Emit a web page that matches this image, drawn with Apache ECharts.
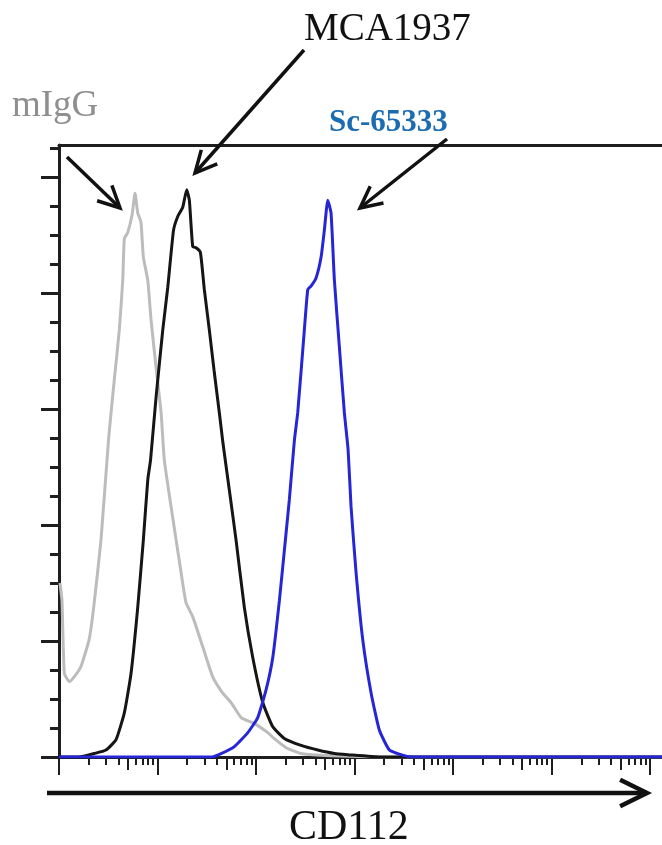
<!DOCTYPE html>
<html><head><meta charset="utf-8">
<script src="https://cdn.jsdelivr.net/npm/echarts@6/dist/echarts.min.js"></script>
<style>html,body{margin:0;padding:0;background:#fff}#c{width:662px;height:845px}</style>
</head><body><div id="c"></div>
<script>
// x values are fluorescence intensity in decades (log10), y values are cell counts
const grayDecade = [0.01,0.03,0.054,0.105,0.162,0.223,0.305,0.352,0.426,0.505,0.561,0.612,0.647,0.663,0.697,0.741,0.772,0.799,0.832,0.856,0.901,0.934,0.985,1.036,1.069,1.137,1.239,1.289,1.357,1.459,1.560,1.662,1.746,1.848,1.980,2.119,2.183,2.305,2.457,2.761,3.3,6.12];
const grayCount  = [150,135,72,65,70,78,101,129,187,276,325,368,411,447,452,467,486,469,461,431,411,377,336,297,256,216,159,133,121,95,69,55,47,34,29,21,16,8,3,1,0,0];

const blackDecade = [0,0.2,0.358,0.477,0.579,0.663,0.731,0.799,0.856,0.901,0.929,0.985,1.053,1.104,1.162,1.205,1.256,1.296,1.323,1.357,1.391,1.435,1.475,1.526,1.577,1.627,1.665,1.729,1.797,1.881,1.966,2.068,2.170,2.287,2.457,2.626,2.795,2.931,3.269,6.12];
const blackCount  = [0,0,3,6,15,38,72,129,187,239,256,310,368,405,454,466,474,489,480,440,439,435,403,368,331,297,270,230,187,129,86,47,26,16,10,6,3,2,0,0];

const blueDecade = [0,1.543,1.645,1.780,1.916,2.017,2.102,2.170,2.237,2.287,2.338,2.389,2.423,2.490,2.525,2.558,2.609,2.660,2.693,2.728,2.761,2.795,2.846,2.896,2.934,2.964,3.015,3.083,3.168,3.252,3.353,3.472,3.574,6.12];
const blueCount  = [0,0,3,9,21,34,58,86,135,178,222,273,297,368,403,406,413,431,454,480,469,411,353,297,265,216,159,101,55,23,6,2,0,0];

const seriesNames = ['mIgG','MCA1937','Sc-65333'];
const axisTitle = 'CD112';
const xMax = 6.12;          // decades shown
const yMax = 527.6;         // counts at top of frame
const yMajorTicks = [0,100,200,300,400,500];
const decades = [0,1,2,3,4,5,6];

// tick positions derived from the scale definitions
const yMinorTicks = [];
for (let v = 25; v <= yMax; v += 25) if (v % 100 !== 0) yMinorTicks.push(v);
const xFiveTicks = [], xMinorTicks = [];
decades.forEach(d => {
  [2,3,4,6,7,8,9].forEach(k => { const v = d + Math.log10(k); if (v <= xMax) xMinorTicks.push(v); });
  const f = d + Math.log10(5); if (f <= xMax) xFiveTicks.push(f);
});

const zip = (xs, ys) => xs.map((x, i) => [x, ys[i]]);
const AX = '#1e1e1e';

function xAxisDef(pos, ticks, len, showLine) {
  return {
    type: 'value', position: pos, min: 0, max: xMax,
    axisLine: { show: showLine, lineStyle: { color: AX, width: 3 } },
    axisTick: { show: ticks.length > 0, customValues: ticks, length: len, lineStyle: { color: AX, width: 2 } },
    axisLabel: { show: false }, splitLine: { show: false }
  };
}
function yAxisDef(ticks, len, showLine) {
  return {
    type: 'value', position: 'left', min: 0, max: yMax,
    axisLine: { show: showLine, lineStyle: { color: AX, width: 3 } },
    axisTick: { show: true, customValues: ticks, length: len, lineStyle: { color: AX, width: 3 } },
    axisLabel: { show: false }, splitLine: { show: false }
  };
}

function arrow(x1, y1, x2, y2, w, head) {
  const a = Math.atan2(y1 - y2, x1 - x2), h = 0.46;
  const p1 = [x2 + head * Math.cos(a + h), y2 + head * Math.sin(a + h)];
  const p2 = [x2 + head * Math.cos(a - h), y2 + head * Math.sin(a - h)];
  const st = { stroke: '#111', lineWidth: w, fill: null, lineCap: 'butt', lineJoin: 'miter' };
  return [
    { type: 'polyline', shape: { points: [[x1, y1], [x2, y2]] }, style: st, z: 10 },
    { type: 'polyline', shape: { points: [p1, [x2, y2], p2] }, style: st, z: 10 }
  ];
}
function label(text, x, y, font, fill) {
  return { type: 'text', z: 10, style: { text, x, y, font, fill, align: 'left', verticalAlign: 'middle' } };
}

const chart = echarts.init(document.getElementById('c'), null, { renderer: 'canvas' });
chart.setOption({
  animation: false,
  backgroundColor: '#ffffff',
  grid: { left: 59, right: 0, top: 145, bottom: 88, containLabel: false },
  xAxis: [
    xAxisDef('bottom', decades, 18, true),
    xAxisDef('bottom', xFiveTicks, 13, false),
    xAxisDef('bottom', xMinorTicks, 8, false),
    xAxisDef('top', [], 0, true)
  ],
  yAxis: [
    yAxisDef(yMajorTicks, 18, true),
    yAxisDef(yMinorTicks, 9, false)
  ],
  series: [
    { name: seriesNames[0], type: 'line', data: zip(grayDecade, grayCount), showSymbol: false, smooth: 0.15,
      lineStyle: { color: '#bcbcbc', width: 3 }, z: 2 },
    { name: seriesNames[1], type: 'line', data: zip(blackDecade, blackCount), showSymbol: false, smooth: 0.15,
      lineStyle: { color: '#151515', width: 3 }, z: 3 },
    { name: seriesNames[2], type: 'line', data: zip(blueDecade, blueCount), showSymbol: false, smooth: 0.15,
      lineStyle: { color: '#2626d6', width: 3 }, z: 4 }
  ],
  graphic: [
    label(seriesNames[0], 12, 106, '37px "Liberation Serif"', '#8f8f8f'),
    label(seriesNames[1], 304, 30, '39px "Liberation Serif"', '#111111'),
    label(seriesNames[2], 329, 123, 'bold 31px "Liberation Serif"', '#1b6cb0'),
    label(axisTitle, 289, 828, '42px "Liberation Serif"', '#111111'),
    ...arrow(67, 157, 120, 208, 3.5, 24),
    ...arrow(304, 50, 195, 173, 3.5, 24),
    ...arrow(447, 139, 360, 208, 3.5, 24),
    ...arrow(47, 793, 647, 793, 4.5, 30)
  ]
});
</script></body></html>
